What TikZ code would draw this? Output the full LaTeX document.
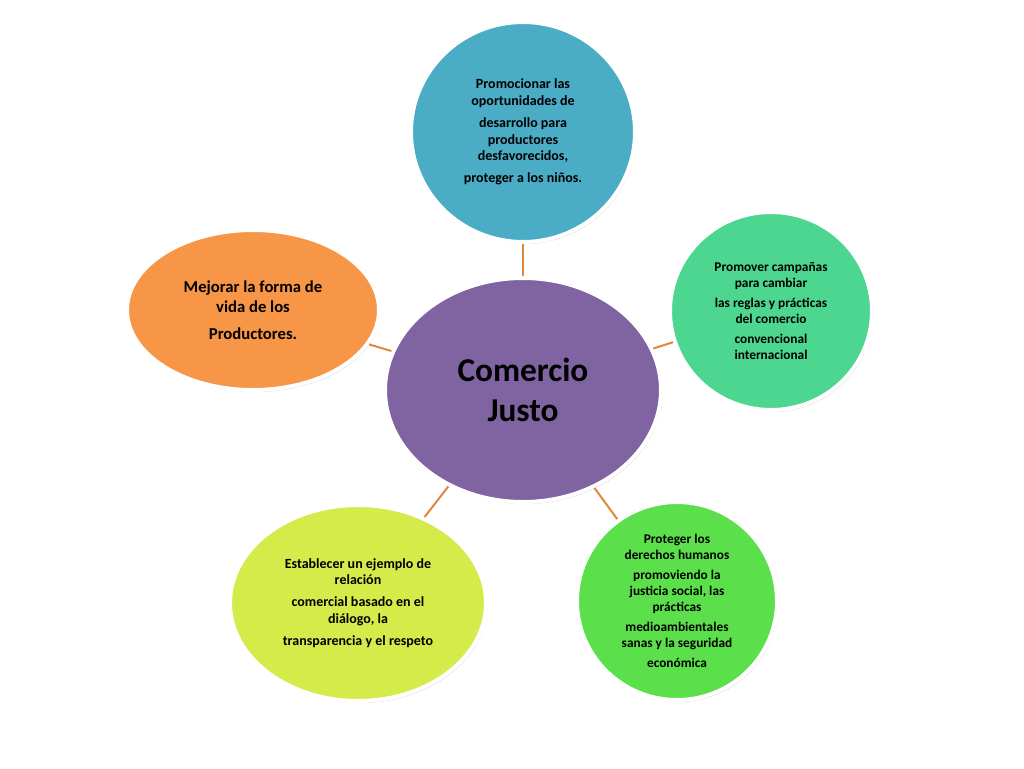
\documentclass[tikz,border=0pt]{standalone}
\usepackage{fontspec}
\setmainfont{Carlito}
\usetikzlibrary{shapes.geometric,shadows}
\definecolor{cpurple}{HTML}{8064A2}
\definecolor{cblue}{HTML}{4BACC6}
\definecolor{cteal}{HTML}{4CD68F}
\definecolor{cgreen}{HTML}{5BE04B}
\definecolor{cyellow}{HTML}{D4EB4A}
\definecolor{corange}{HTML}{F79646}
\begin{document}
\begin{tikzpicture}[x=0.75pt,y=-0.75pt,
  blob/.style={ellipse,draw=white,line width=3pt,inner sep=0pt,align=center,
    font=\bfseries\fontsize{10.5}{12.5}\selectfont,
    drop shadow={shadow xshift=1pt,shadow yshift=-1.5pt,fill=black!35}},
  link/.style={draw=corange!90!black,line width=1.5pt}]
\useasboundingbox (0,0) rectangle (1024,768);
\node[blob,fill=cpurple,minimum width=276pt*0.75,minimum height=224pt*0.75,font=\bfseries\fontsize{25}{30}\selectfont] (c) at (523,390) {Comercio\\Justo};
\node[blob,fill=cblue,minimum width=224*0.75pt,minimum height=220*0.75pt] (t) at (523,132) {Promocionar las\\oportunidades de\\[4pt]desarrollo para\\productores\\desfavorecidos,\\[4pt]proteger a los niños.};
\node[blob,fill=cteal,minimum width=202*0.75pt,minimum height=198*0.75pt,font=\bfseries\fontsize{10}{12}\selectfont] (r) at (771,311) {Promover campañas\\para cambiar\\[3pt]las reglas y prácticas\\del comercio\\[3pt]convencional\\internacional};
\node[blob,fill=cgreen,minimum width=200*0.75pt,minimum height=198*0.75pt,font=\bfseries\fontsize{10}{12}\selectfont] (br) at (677,601) {Proteger los\\derechos humanos\\[3pt]promoviendo la\\justicia social, las\\prácticas\\[3pt]medioambientales\\sanas y la seguridad\\[3pt]económica};
\node[blob,fill=cyellow,minimum width=256*0.75pt,minimum height=196*0.75pt] (bl) at (358,603) {Establecer un ejemplo de\\relación\\[4pt]comercial basado en el\\diálogo, la\\[4pt]transparencia y el respeto};
\node[blob,fill=corange,minimum width=252*0.75pt,minimum height=160*0.75pt,font=\bfseries\fontsize{12.5}{15}\selectfont] (l) at (253,310) {Mejorar la forma de\\vida de los\\[5pt]Productores.};
\draw[link] (c) -- (t);
\draw[link] (c) -- (r);
\draw[link] (c) -- (br);
\draw[link] (c) -- (bl);
\draw[link] (c) -- (l);
\end{tikzpicture}
\end{document}
